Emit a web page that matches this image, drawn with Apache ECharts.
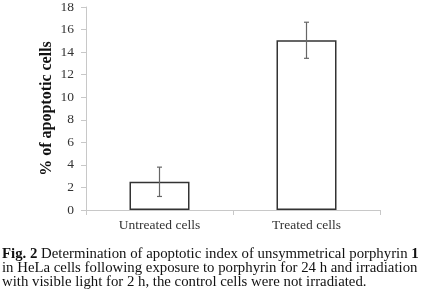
<!DOCTYPE html>
<html>
<head>
<meta charset="utf-8">
<script src="https://cdn.jsdelivr.net/npm/echarts@6/dist/echarts.min.js"></script>
<style>
  html, body { margin: 0; padding: 0; background: #fff; }
  #chart { width: 421px; height: 298px; }
</style>
</head>
<body>
<div id="chart"></div>
<script>
var categories = ['Untreated cells', 'Treated cells'];
var apoptoticMeans = [2.5, 15.05];
var apoptoticErrors = [1.3, 1.6];
var yTicks = [0, 18, 2];

var chart = echarts.init(document.getElementById('chart'));
var serif = '"Liberation Serif", "DejaVu Serif", serif';

var errorData = categories.map(function (c, i) {
    return [i, apoptoticMeans[i] - apoptoticErrors[i], apoptoticMeans[i] + apoptoticErrors[i]];
});

var option = {
    animation: false,
    grid: { left: 86, right: 41, top: 5, bottom: 88 },
    xAxis: {
        type: 'category',
        data: categories,
        axisLine: { lineStyle: { color: '#c8c8c8', width: 1 } },
        axisTick: { show: true, length: 5, lineStyle: { color: '#c8c8c8' } },
        axisLabel: { color: '#333', fontFamily: serif, fontSize: 13.5, margin: 8 }
    },
    yAxis: {
        type: 'value',
        min: yTicks[0],
        max: yTicks[1],
        interval: yTicks[2],
        name: '% of apoptotic cells',
        nameLocation: 'middle',
        nameGap: 31,
        nameMoveOverlap: false,
        nameTextStyle: { color: '#111', fontFamily: serif, fontSize: 16, fontWeight: 'bold' },
        axisLine: { show: true, lineStyle: { color: '#c8c8c8', width: 1 } },
        axisTick: { show: true, length: 5, lineStyle: { color: '#c8c8c8' } },
        splitLine: { show: false },
        axisLabel: { color: '#333', fontFamily: serif, fontSize: 13.5, margin: 12 }
    },
    series: [
        {
            type: 'bar',
            data: apoptoticMeans,
            barWidth: 60,
            itemStyle: { color: '#fff', borderColor: '#333', borderWidth: 1.5 }
        },
        {
            type: 'custom',
            data: errorData,
            z: 10,
            renderItem: function (params, api) {
                var x = api.coord([api.value(0), api.value(1)]);
                var top = api.coord([api.value(0), api.value(2)]);
                var cx = x[0];
                var cap = 2.5;
                var style = { stroke: '#666', lineWidth: 1.2 };
                return {
                    type: 'group',
                    children: [
                        { type: 'line', shape: { x1: cx, y1: x[1], x2: cx, y2: top[1] }, style: style },
                        { type: 'line', shape: { x1: cx - cap, y1: x[1], x2: cx + cap, y2: x[1] }, style: style },
                        { type: 'line', shape: { x1: cx - cap, y1: top[1], x2: cx + cap, y2: top[1] }, style: style }
                    ]
                };
            }
        }
    ],
    graphic: [
        {
            type: 'text',
            left: 2,
            top: 247,
            style: {
                text: '{b|Fig. 2} Determination of apoptotic index of unsymmetrical porphyrin {b|1}\n' +
                      'in HeLa cells following exposure to porphyrin for 24 h and irradiation\n' +
                      'with visible light for 2 h, the control cells were not irradiated.',
                fontFamily: serif,
                fontSize: 14.8,
                lineHeight: 14,
                fill: '#111',
                rich: {
                    b: { fontFamily: serif, fontSize: 14.8, fontWeight: 'bold', fill: '#111', lineHeight: 14 }
                }
            }
        }
    ]
};

chart.setOption(option);
</script>
</body>
</html>
